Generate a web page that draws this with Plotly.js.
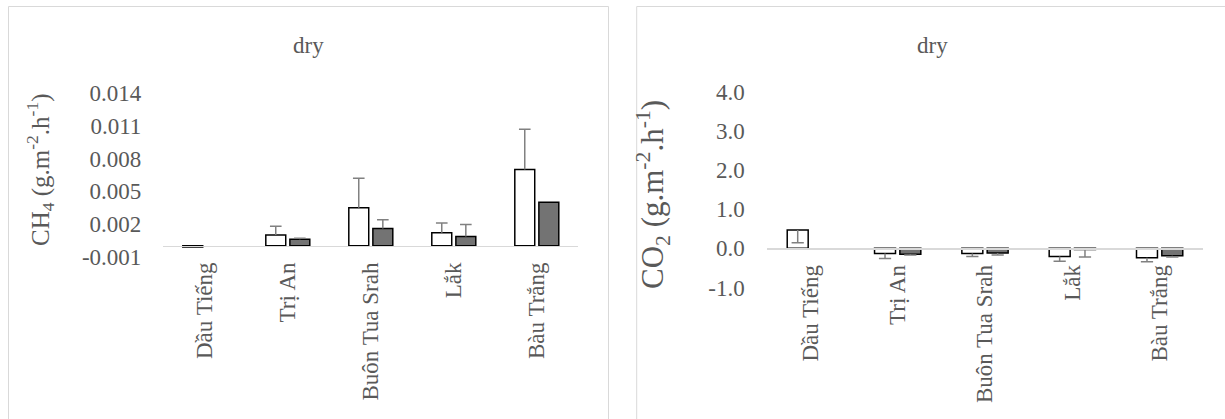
<!DOCTYPE html>
<html>
<head>
<meta charset="utf-8">
<script src="https://cdn.plot.ly/plotly-3.0.1.min.js"></script>
<style>html,body{margin:0;padding:0;background:#fff;}#chart{width:1225px;height:419px;}</style>
</head>
<body>
<div id="chart"></div>
<script>
// ---- data ----
const categories = ["Dầu Tiếng", "Trị An", "Buôn Tua Srah", "Lắk", "Bàu Trắng"];

const ch4White    = [-0.0001, 0.0010, 0.0035, 0.0012, 0.0070];
const ch4WhiteErr = [0, 0.0008, 0.0027, 0.0009, 0.0037];
const ch4Gray     = [null, 0.0006, 0.0016, 0.00085, 0.0040];
const ch4GrayErr  = [null, 0.0001, 0.0008, 0.0011, 0];

const co2White    = [0.47, -0.13, -0.13, -0.21, -0.24];
const co2WhiteErr = [0.33, 0.13, 0.08, 0.12, 0.10];
const co2Gray     = [null, -0.15, -0.12, -0.03, -0.19];
const co2GrayErr  = [null, 0.02, 0.05, 0.19, 0.03];

const ch4TickVals = [-0.001, 0.002, 0.005, 0.008, 0.011, 0.014];
const ch4TickText = ["-0.001", "0.002", "0.005", "0.008", "0.011", "0.014"];
const co2TickVals = [-1, 0, 1, 2, 3, 4];
const co2TickText = ["-1.0", "0.0", "1.0", "2.0", "3.0", "4.0"];

const titleLeft = "dry";
const titleRight = "dry";
const ch4Label = "CH<sub>4</sub> (g.m<sup>-2</sup>.h<sup>-1</sup>)";
const co2Label = "CO<sub>2</sub> (g.m<sup>-2</sup>.h<sup>-1</sup>)";

// ---- style / layout ----
const W = 1225, H = 419;
const FONT = 'Liberation Serif, Times New Roman, serif';
const TXT = '#595959';
const FS = 23;
const OFF = 0.145, BW = 0.24, CAP = 0.07;
const GRAYFILL = '#737373', ERRCOL = '#808080';

const px = v => v / W;
const py = v => 1 - v / H;

const dom1x = [px(163.3), px(578.3)], dom1y = [py(256.7), py(93.3)];
const dom2x = [px(766.7), px(1203.3)], dom2y = [py(287.5), py(91.7)];
const r1 = [-0.001, 0.014], r2 = [-1, 4];
const zeroPos = (dom, r) => dom[0] + (0 - r[0]) / (r[1] - r[0]) * (dom[1] - dom[0]);

const idx = categories.map((_, i) => i);

function barTrace(vals, shift, fill, xa, ya) {
  return {
    type: 'bar', x: idx.map(i => i + shift), y: vals, width: BW,
    xaxis: xa, yaxis: ya,
    marker: {color: fill, line: {color: '#000', width: 1.5}},
    hoverinfo: 'skip', showlegend: false
  };
}
function errTrace(vals, errs, shift, dir, xa, ya) {
  const xs = [], ys = [];
  vals.forEach((v, i) => {
    const e = errs[i];
    if (v == null || e == null || e <= 0) return;
    const x = i + shift, end = v + dir * e;
    xs.push(x, x, null, x - CAP, x + CAP, null);
    ys.push(v, end, null, end, end, null);
  });
  return {
    type: 'scatter', mode: 'lines', x: xs, y: ys, xaxis: xa, yaxis: ya,
    line: {color: ERRCOL, width: 1.5}, hoverinfo: 'skip', showlegend: false,
    connectgaps: false
  };
}

const traces = [
  barTrace(ch4White, -OFF, '#ffffff', 'x', 'y'),
  barTrace(ch4Gray, OFF, GRAYFILL, 'x', 'y'),
  errTrace(ch4White, ch4WhiteErr, -OFF, 1, 'x', 'y'),
  errTrace(ch4Gray, ch4GrayErr, OFF, 1, 'x', 'y'),
  barTrace(co2White, -OFF, '#ffffff', 'x2', 'y2'),
  barTrace(co2Gray, OFF, GRAYFILL, 'x2', 'y2'),
  errTrace(co2White, co2WhiteErr, -OFF, -1, 'x2', 'y2'),
  errTrace(co2Gray, co2GrayErr, OFF, -1, 'x2', 'y2')
];

function xAxis(dom, pos) {
  return {
    domain: dom, range: [-0.5, 4.5], anchor: 'free',
    position: pos, tickvals: idx, ticktext: categories, tickangle: -90,
    ticks: '', showgrid: false, zeroline: false, showline: true,
    linecolor: '#d9d9d9', linewidth: 1.5, ticklabelstandoff: 6,
    tickfont: {family: FONT, size: FS, color: TXT}, fixedrange: true
  };
}
function yAxis(dom, r, tv, tt, xa) {
  return {
    domain: dom, range: r, anchor: xa, tickvals: tv, ticktext: tt,
    ticks: '', showgrid: false, zeroline: false, showline: false,
    ticklabelstandoff: 21,
    tickfont: {family: FONT, size: FS, color: TXT}, fixedrange: true
  };
}

const layout = {
  width: W, height: H, margin: {l: 0, r: 0, t: 0, b: 0},
  paper_bgcolor: '#fff', plot_bgcolor: 'rgba(0,0,0,0)',
  barmode: 'overlay', showlegend: false,
  font: {family: FONT, size: FS, color: TXT},
  xaxis: xAxis(dom1x, zeroPos(dom1y, r1)),
  yaxis: yAxis(dom1y, r1, ch4TickVals, ch4TickText, 'x'),
  xaxis2: xAxis(dom2x, zeroPos(dom2y, r2)),
  yaxis2: yAxis(dom2y, r2, co2TickVals, co2TickText, 'x2'),
  shapes: [
    {type: 'rect', xref: 'paper', yref: 'paper', x0: px(8.5), x1: px(608.5), y0: py(430), y1: py(6.5),
     line: {color: '#d9d9d9', width: 1}, fillcolor: 'rgba(0,0,0,0)', layer: 'below'},
    {type: 'rect', xref: 'paper', yref: 'paper', x0: px(636.7), x1: px(1240), y0: py(430), y1: py(6.5),
     line: {color: '#d9d9d9', width: 1}, fillcolor: 'rgba(0,0,0,0)', layer: 'below'}
  ],
  annotations: [
    {text: titleLeft, xref: 'paper', yref: 'paper', x: px(308.5), y: py(45), xanchor: 'center', yanchor: 'middle',
     showarrow: false, font: {family: FONT, size: FS, color: TXT}},
    {text: titleRight, xref: 'paper', yref: 'paper', x: px(932), y: py(45), xanchor: 'center', yanchor: 'middle',
     showarrow: false, font: {family: FONT, size: FS, color: TXT}},
    {text: ch4Label, xref: 'paper', yref: 'paper', x: px(40), y: py(170), xanchor: 'center', yanchor: 'middle',
     textangle: -90, showarrow: false, font: {family: FONT, size: 25, color: TXT}},
    {text: co2Label, xref: 'paper', yref: 'paper', x: px(653), y: py(194), xanchor: 'center', yanchor: 'middle',
     textangle: -90, showarrow: false, font: {family: FONT, size: 31, color: TXT}}
  ]
};

Plotly.newPlot('chart', traces, layout, {staticPlot: true, displayModeBar: false});
</script>
</body>
</html>
